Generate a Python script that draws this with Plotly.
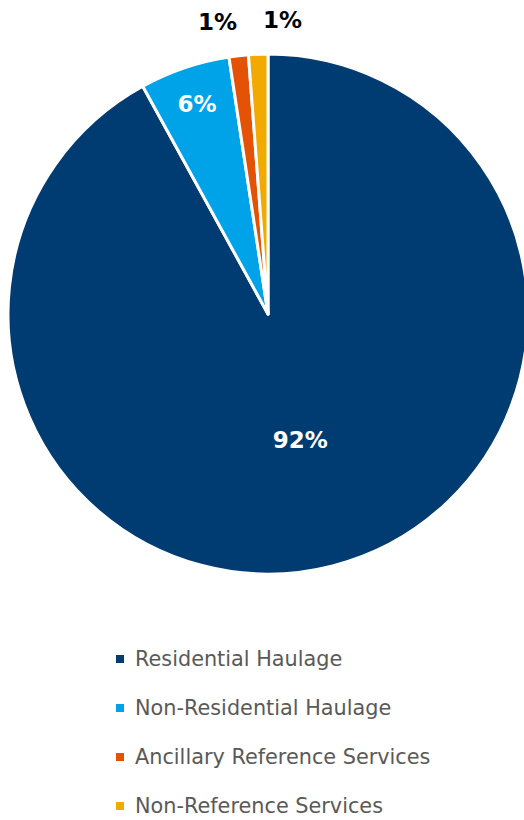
import plotly.graph_objects as go

labels = ["Residential Haulage", "Non-Residential Haulage", "Ancillary Reference Services", "Non-Reference Services"]
values = [92.0, 5.6, 1.2, 1.2]
colors = ["#003B71", "#00A3E8", "#E35205", "#F2A900"]
text_positions = ["inside", "inside", "none", "none"]

W, H = 540, 820          # page is viewed through a 524 px window; pie runs off the right edge
CX, CY, R = 268, 314, 260  # pie centre / radius in pixels

fig = go.Figure()
fig.add_trace(go.Pie(
    labels=labels, values=values, sort=False, direction="clockwise", rotation=0,
    marker=dict(colors=colors, line=dict(color="#FFFFFF", width=3)),
    texttemplate="%{percent:.0%}", textposition=text_positions,
    insidetextfont=dict(family="DejaVu Sans", size=23, color="#FFFFFF", weight="bold"),
    insidetextorientation="horizontal",
    hoverinfo="label+percent",
    showlegend=False,
    domain=dict(x=[(CX - R) / W, (CX + R) / W],
                y=[(H - CY - R) / H, (H - CY + R) / H]),
))

# outside labels for the two small slices (placed above the pie, spread apart)
total = sum(values)
label_px = {2: (217, 22), 3: (282, 20)}
for i, (px, py) in label_px.items():
    fig.add_annotation(
        x=px / W, y=1 - py / H, xref="paper", yref="paper", xanchor="center", yanchor="middle",
        text=f"{values[i] / total:.0%}", showarrow=False,
        font=dict(family="DejaVu Sans", size=23, color="#000000", weight="bold"),
    )

# legend (vertical list below the pie)
LEG_X, LEG_Y0, LEG_DY, SQ = 116, 659, 49, 8
for i, (lab, col) in enumerate(zip(labels, colors)):
    yc = LEG_Y0 + i * LEG_DY
    fig.add_shape(
        type="rect", xref="paper", yref="paper",
        x0=LEG_X / W, x1=(LEG_X + SQ) / W,
        y0=1 - (yc + SQ / 2) / H, y1=1 - (yc - SQ / 2) / H,
        fillcolor=col, line=dict(width=0),
    )
    fig.add_annotation(
        x=(LEG_X + SQ + 9) / W, y=1 - yc / H, xref="paper", yref="paper",
        xanchor="left", yanchor="middle", text=lab, showarrow=False,
        font=dict(family="DejaVu Sans", size=20.8, color="#595959"),
    )

fig.update_layout(
    width=W, height=H,
    margin=dict(l=0, r=0, t=0, b=0, autoexpand=False),
    paper_bgcolor="#FFFFFF", plot_bgcolor="#FFFFFF",
    showlegend=False,
)
fig.write_html(
    "out.html",
    config={"displayModeBar": False},
    post_script="document.body.style.margin='0';document.body.style.overflow='hidden';"
                "document.documentElement.style.overflow='hidden';",
)
